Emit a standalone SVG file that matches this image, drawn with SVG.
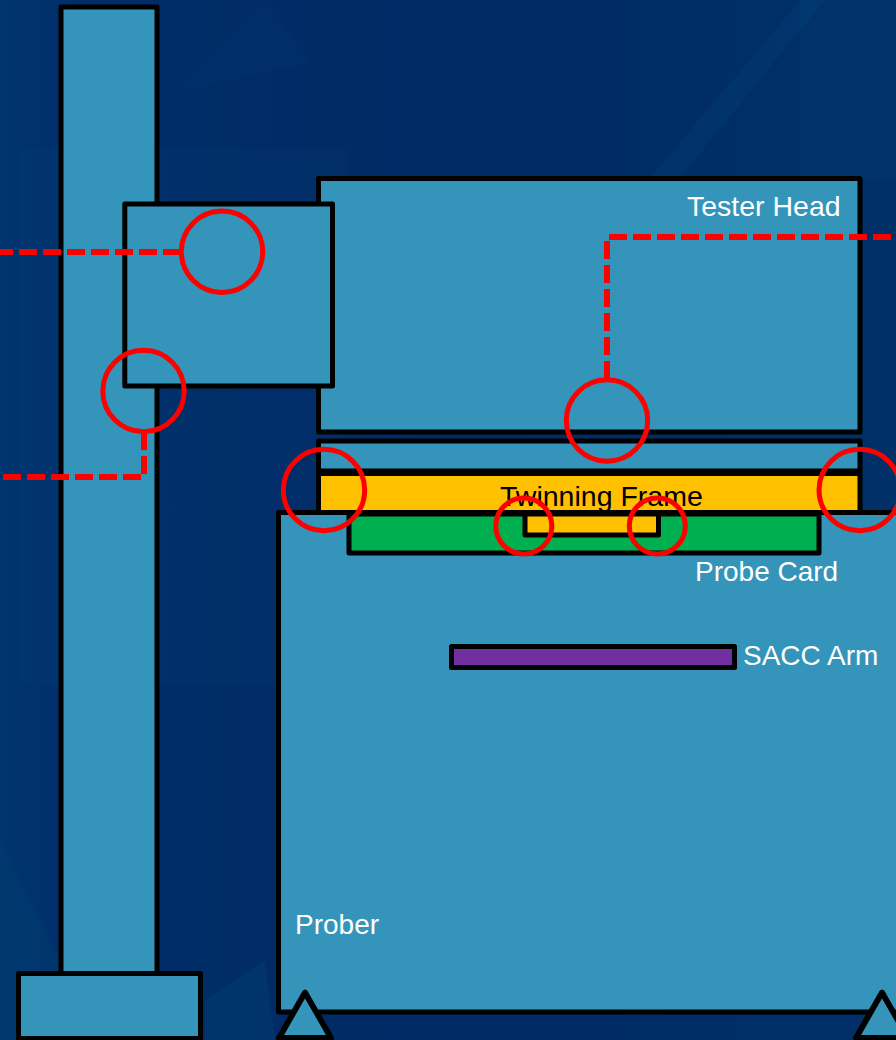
<svg xmlns="http://www.w3.org/2000/svg" width="896" height="1040" viewBox="0 0 896 1040">
<style>
.p{fill:#3494BA;stroke:#000;stroke-width:5;stroke-linejoin:round}
.g{fill:#FFC000;stroke:#000;stroke-width:5;stroke-linejoin:round}
.f{fill:#3494BA;stroke:#000;stroke-width:5.800;stroke-linejoin:round}
.c{fill:none;stroke:#F00;stroke-width:5}
.d{fill:none;stroke:#F00;stroke-width:6;stroke-dasharray:18 6}
.w{fill:#fff;font:28px "Liberation Sans",Arial,sans-serif}
.k{fill:#000;font:28.500px "Liberation Sans",Arial,sans-serif}
</style>
<defs>
<linearGradient id="bg" x1="0" y1="0" x2="1" y2="0">
<stop offset="0" stop-color="#003570"/><stop offset=".1" stop-color="#002D68"/><stop offset=".55" stop-color="#002A64"/><stop offset="1" stop-color="#003068"/>
</linearGradient>
</defs>
<g id="background">
<rect width="896" height="1040" fill="url(#bg)"/>
<rect x="20" y="148" width="327" height="537" fill="#0A4A80" opacity=".1"/>
<polygon points="800,0 896,0 896,180 800,180" fill="#04497C" opacity=".18"/>
<polygon points="650,178 800,0 825,0 680,178" fill="#0A5A8C" opacity=".14"/>
<polygon points="0,840 60,960 60,1040 0,1040" fill="#004A70" opacity=".2"/>
<polygon points="205,1000 265,960 275,1040 205,1040" fill="#005078" opacity=".25"/>
<polygon points="263,0 311,62 177,93" fill="#0A5A80" opacity=".06"/>
</g>
<g id="column"><rect class="p" x="61" y="7" width="96" height="967"/></g>
<g id="base"><rect class="p" x="18.500" y="973.500" width="182" height="65"/></g>
<g id="tester-head"><rect class="p" x="318.500" y="178.500" width="541.500" height="253.500"/></g>
<g id="spacer"><rect class="p" x="318.500" y="441" width="541.500" height="30"/></g>
<g id="twinning-frame"><rect class="g" x="318.500" y="473.500" width="541.500" height="40"/></g>
<g id="prober"><rect class="p" x="278.500" y="512.500" width="630" height="499.500"/></g>
<g id="probe-card"><rect x="349" y="514" width="470" height="39" fill="#00B050" stroke="#000" stroke-width="5" stroke-linejoin="round"/></g>
<g id="frame-tab"><rect class="g" x="525" y="514" width="133.500" height="21"/></g>
<g id="sacc-arm"><rect x="451.500" y="646.500" width="283" height="21" fill="#7030A0" stroke="#000" stroke-width="5" stroke-linejoin="round"/></g>
<g id="foot-left"><polygon class="f" points="305,992.500 279,1038 331,1038"/></g>
<g id="foot-right"><polygon class="f" points="882,992.500 856,1038 908,1038"/></g>
<g id="arm"><rect class="p" x="124.800" y="204" width="207.700" height="182"/></g>
<g id="labels">
<text class="w" x="687" y="216" style="font-size:28.500px">Tester Head</text>
<text class="k" x="500" y="506">Twinning Frame</text>
<text class="w" x="695" y="581">Probe Card</text>
<text class="w" x="743" y="665">SACC Arm</text>
<text class="w" x="295" y="934">Prober</text>
</g>
<g id="connectors">
<path class="d" d="M-5 252H181"/>
<path class="d" d="M144 432V477H0"/>
<path class="d" d="M891 237H607V378"/>
</g>
<g id="markers">
<circle class="c" cx="222" cy="251.700" r="40.700"/>
<circle class="c" cx="143.500" cy="391" r="40.700"/>
<circle class="c" cx="607" cy="420.500" r="40.700"/>
<circle class="c" cx="324" cy="490" r="40.700"/>
<circle class="c" cx="859.700" cy="490" r="40.700"/>
<circle class="c" cx="523.800" cy="526" r="28"/>
<circle class="c" cx="657.300" cy="526" r="28"/>
</g>
</svg>
